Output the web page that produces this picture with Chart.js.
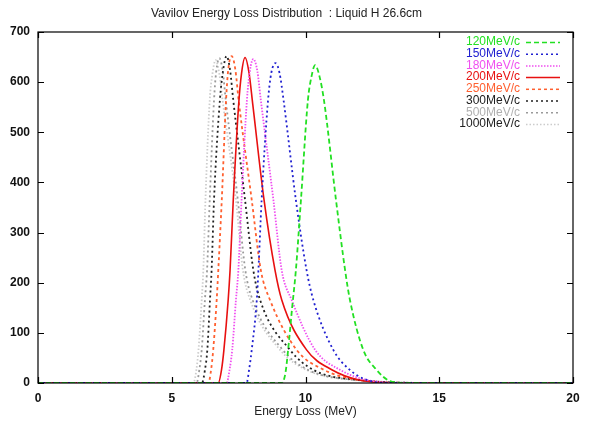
<!DOCTYPE html>
<html>
<head>
<meta charset="utf-8">
<script src="https://cdn.jsdelivr.net/npm/chart.js@4.4.0/dist/chart.umd.min.js"></script>
<style>
    html, body { margin: 0; padding: 0; background: #fff; }
    #wrap { width: 591px; height: 422px; }
</style>
</head>
<body>
<div id="wrap"><canvas id="vavilov"></canvas></div>
<script>
// energy loss (MeV) / counts, one pair of arrays per momentum
const e120 = [0, 9.11, 9.25, 9.35, 9.5, 9.64, 9.83, 10.09, 10.22, 10.36, 10.53, 10.69, 11.14, 11.48, 11.66, 12.16, 12.66, 13.16, 13.8, 20];
const v120 = [0, 0, 20, 66, 150, 225, 365, 564, 610, 634, 610, 564, 365, 225, 166, 66, 26, 4, 0, 0];

const e150 = [0, 7.80, 7.89, 7.99, 8.18, 8.24, 8.36, 8.60, 8.72, 8.88, 9.03, 9.18, 9.64, 10.04, 10.29, 11.04, 11.66, 12.3, 13.2, 20];
const v150 = [0, 0, 26, 66, 166, 225, 365, 564, 618, 638, 618, 564, 365, 225, 166, 66, 26, 6, 0, 0];

const e180 = [0, 7.05, 7.16, 7.26, 7.40, 7.49, 7.61, 7.81, 7.92, 8.05, 8.20, 8.33, 8.80, 9.11, 9.48, 10.36, 11.3, 12.5, 14, 20];
const v180 = [0, 0, 26, 66, 166, 225, 365, 564, 622, 646, 622, 564, 365, 225, 166, 66, 26, 4, 0, 0];

const e200 = [0, 6.74, 6.86, 6.95, 7.11, 7.18, 7.30, 7.50, 7.61, 7.74, 7.89, 8.03, 8.45, 8.86, 9.11, 10.04, 11.0, 12.0, 13.5, 20];
const v200 = [0, 0, 26, 66, 166, 225, 365, 555, 618, 649, 618, 555, 365, 225, 166, 66, 26, 6, 0, 0];

const e250 = [0, 6.37, 6.47, 6.55, 6.68, 6.74, 6.87, 7.03, 7.11, 7.24, 7.38, 7.50, 7.99, 8.33, 8.67, 9.67, 10.7, 12.0, 14.5, 20];
const v250 = [0, 0, 26, 66, 166, 225, 365, 564, 624, 652, 624, 564, 365, 225, 166, 66, 26, 6, 0, 0];

const e300 = [0, 6.13, 6.24, 6.33, 6.43, 6.49, 6.58, 6.80, 6.92, 7.05, 7.18, 7.30, 7.74, 8.05, 8.30, 9.42, 10.3, 11.8, 15, 20];
const v300 = [0, 0, 26, 66, 166, 225, 365, 564, 624, 652, 624, 564, 365, 225, 166, 66, 26, 7, 0, 0];

const e500 = [0, 5.93, 6.03, 6.12, 6.24, 6.32, 6.42, 6.58, 6.66, 6.78, 6.91, 7.02, 7.47, 7.75, 8.02, 9.15, 10.1, 11.7, 15.5, 20];
const v500 = [0, 0, 26, 66, 166, 225, 365, 564, 620, 648, 620, 564, 365, 225, 166, 66, 26, 7, 0, 0];

const e1000 = [0, 5.81, 5.92, 6.00, 6.12, 6.18, 6.26, 6.42, 6.52, 6.64, 6.78, 6.90, 7.40, 7.66, 7.93, 9.05, 10.04, 11.6, 15.5, 20];
const v1000 = [0, 0, 26, 66, 166, 225, 365, 564, 616, 644, 616, 564, 365, 225, 166, 66, 26, 7, 0, 0];

const seriesLabels = ['120MeV/c', '150MeV/c', '180MeV/c', '200MeV/c', '250MeV/c', '300MeV/c', '500MeV/c', '1000MeV/c'];
const xTicks = [0, 5, 10, 15, 20];
const yTicks = [0, 100, 200, 300, 400, 500, 600, 700];

const energies = [e120, e150, e180, e200, e250, e300, e500, e1000];
const counts = [v120, v150, v180, v200, v250, v300, v500, v1000];

const styles = [
    { color: '#22e022', text: '#22e022', dash: [5, 3] },
    { color: '#2020d0', text: '#2020d0', dash: [2, 3] },
    { color: '#f050f0', text: '#f050f0', dash: [1.5, 1.5] },
    { color: '#e81010', text: '#e81010', dash: [] },
    { color: '#ff6030', text: '#ff6030', dash: [3, 3] },
    { color: '#202020', text: '#202020', dash: [2, 3] },
    { color: '#9a9a9a', text: '#b0b0b0', dash: [2, 3] },
    { color: '#cccccc', text: '#202020', dash: [1.5, 2] }
];

const datasets = seriesLabels.map((label, i) => ({
    label: label,
    data: energies[i].map((x, j) => ({ x: x, y: counts[i][j] })),
    borderColor: styles[i].color,
    borderDash: styles[i].dash,
    textColor: styles[i].text,
    borderWidth: i === 3 ? 1.6 : 1.8,
    pointRadius: 0,
    fill: false,
    cubicInterpolationMode: 'monotone'
}));

// gnuplot look: frame, inward ticks on all four sides, key inside top right
const gnuplotFrame = {
    id: 'gnuplotFrame',
    afterDatasetsDraw(chart) {
        const { ctx, chartArea: a, scales } = chart;
        ctx.save();
        ctx.strokeStyle = '#000';
        ctx.lineWidth = 1.2;
        ctx.setLineDash([]);
        ctx.strokeRect(a.left, a.top, a.right - a.left, a.bottom - a.top);
        ctx.beginPath();
        xTicks.forEach(v => {
            const px = Math.round(scales.x.getPixelForValue(v)) + 0.5;
            ctx.moveTo(px, a.bottom); ctx.lineTo(px, a.bottom - 6);
            ctx.moveTo(px, a.top); ctx.lineTo(px, a.top + 6);
        });
        yTicks.forEach(v => {
            const py = Math.round(scales.y.getPixelForValue(v)) + 0.5;
            ctx.moveTo(a.left, py); ctx.lineTo(a.left + 6, py);
            ctx.moveTo(a.right, py); ctx.lineTo(a.right - 6, py);
        });
        ctx.stroke();

        ctx.font = '12px "Liberation Sans", Arial, sans-serif';
        ctx.textAlign = 'right';
        ctx.textBaseline = 'middle';
        chart.data.datasets.forEach((ds, i) => {
            const y = a.top + 10 + i * 11.7;
            ctx.fillStyle = ds.textColor;
            ctx.fillText(ds.label, a.right - 53, y);
            ctx.strokeStyle = ds.borderColor;
            ctx.lineWidth = 1.5;
            ctx.setLineDash(ds.borderDash);
            ctx.beginPath();
            ctx.moveTo(a.right - 47, y + 0.5);
            ctx.lineTo(a.right - 13, y + 0.5);
            ctx.stroke();
        });
        ctx.restore();
    }
};

new Chart(document.getElementById('vavilov'), {
    type: 'line',
    data: { datasets: datasets },
    options: {
        responsive: true,
        maintainAspectRatio: false,
        animation: false,
        layout: { padding: { left: 0, right: 18, top: 0, bottom: 0 } },
        plugins: {
            legend: { display: false },
            tooltip: { enabled: false },
            title: {
                display: true,
                text: 'Vavilov Energy Loss Distribution  : Liquid H 26.6cm',
                color: '#222',
                font: { family: '"Liberation Sans", Arial, sans-serif', size: 12, weight: 'normal' },
                padding: { top: 6, bottom: 11.6 }
            }
        },
        scales: {
            x: {
                type: 'linear',
                min: 0,
                max: 20,
                grid: { display: false, drawTicks: false },
                border: { display: false },
                afterBuildTicks: (scale) => { scale.ticks = xTicks.map(v => ({ value: v })); },
                ticks: {
                    padding: 8,
                    color: '#111',
                    maxRotation: 0,
                    font: { family: '"Liberation Sans", Arial, sans-serif', size: 12, weight: 'bold' }
                },
                title: {
                    display: true,
                    text: 'Energy Loss (MeV)',
                    color: '#222',
                    padding: { top: 0, bottom: 3 },
                    font: { family: '"Liberation Sans", Arial, sans-serif', size: 12 }
                },
                afterFit: (scale) => { scale.height = 39; }
            },
            y: {
                min: 0,
                max: 700,
                grid: { display: false, drawTicks: false },
                border: { display: false },
                afterBuildTicks: (scale) => { scale.ticks = yTicks.map(v => ({ value: v })); },
                ticks: {
                    padding: 8,
                    color: '#111',
                    font: { family: '"Liberation Sans", Arial, sans-serif', size: 12, weight: 'bold' }
                },
                afterFit: (scale) => { scale.width = 38; }
            }
        }
    },
    plugins: [gnuplotFrame]
});
</script>
</body>
</html>
